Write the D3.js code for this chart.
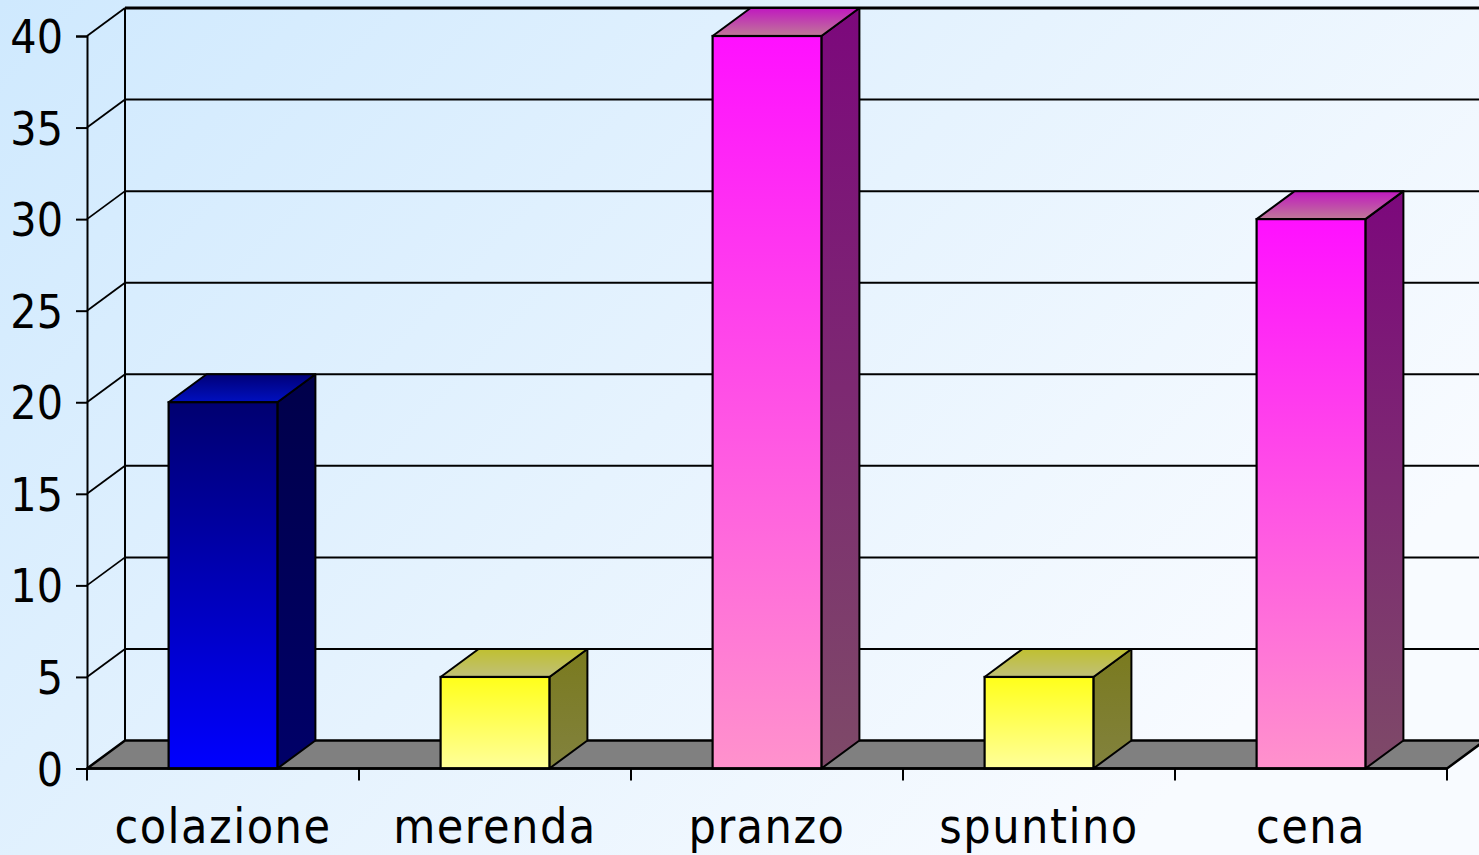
<!DOCTYPE html>
<html>
<head>
<meta charset="utf-8">
<script src="https://cdn.jsdelivr.net/npm/d3@7"></script>
<style>
  html, body { margin: 0; padding: 0; overflow: hidden; }
  svg { display: block; }
  text { font-family: 'DejaVu Sans Condensed', 'DejaVu Sans', sans-serif; font-stretch: condensed; fill: #000; }
</style>
</head>
<body>
<svg id="chart" width="1479" height="855"></svg>
<script>
// Meals and their counts
const categories = ["colazione", "merenda", "pranzo", "spuntino", "cena"];
const values = [20, 5, 40, 5, 30];
const yTicks = [0, 5, 10, 15, 20, 25, 30, 35, 40];

// colour scheme per bar: [front top, front bottom, side top, side bottom, top back, top front]
const palettes = {
  blue:    ["#000070", "#0000ff", "#00004a", "#000068", "#000078", "#0010c0"],
  yellow:  ["#ffff1a", "#ffff9a", "#7a7a1e", "#82823e", "#c0c030", "#c0c078"],
  magenta: ["#ff10ff", "#ff92cc", "#7c087c", "#7e4a68", "#c018c0", "#c07898"]
};
const barPalette = ["blue", "yellow", "magenta", "yellow", "magenta"];

const W = 1479, H = 855;
const svg = d3.select("#chart");
const defs = svg.append("defs");

// soft blue-to-white backdrop
const bg = defs.append("linearGradient").attr("id", "bg")
  .attr("x1", 0).attr("y1", 0).attr("x2", 1).attr("y2", 0.55);
bg.append("stop").attr("offset", "0%").attr("stop-color", "#cfe9fe");
bg.append("stop").attr("offset", "55%").attr("stop-color", "#e6f3fe");
bg.append("stop").attr("offset", "100%").attr("stop-color", "#f8fbff");
svg.append("rect").attr("width", W).attr("height", H).attr("fill", "url(#bg)");

// projection of the depth axis
const DX = 38, DY = -28;

const x = d3.scaleBand().domain(categories).range([87, 1447])
  .paddingInner(0.6).paddingOuter(0.3);
const xEdges = d3.scaleBand().domain(categories).range([87, 1447]).padding(0);
const y = d3.scaleLinear().domain([0, 40]).range([768.5, 36]);
const [x0, x1] = x.range();

// back wall grid lines
const g = svg.append("g");
g.selectAll("line.grid").data(yTicks.filter(d => d > 0)).join("line")
  .attr("x1", x0 + DX).attr("x2", W + 5)
  .attr("y1", d => y(d) + DY).attr("y2", d => y(d) + DY)
  .attr("stroke", "#000").attr("stroke-width", d => d === 40 ? 3 : 2);

// side wall diagonals
g.selectAll("line.diag").data(yTicks.filter(d => d > 0)).join("line")
  .attr("x1", x0).attr("y1", d => y(d))
  .attr("x2", x0 + DX).attr("y2", d => y(d) + DY)
  .attr("stroke", "#000").attr("stroke-width", 1.8);

// back wall left edge
g.append("line").attr("x1", x0 + DX).attr("x2", x0 + DX)
  .attr("y1", y(40) + DY).attr("y2", y(0) + DY)
  .attr("stroke", "#000").attr("stroke-width", 2);

// floor
g.append("path")
  .attr("d", d3.line()([[x0, y(0)], [x1, y(0)], [x1 + DX, y(0) + DY], [x0 + DX, y(0) + DY]]) + "Z")
  .attr("fill", "#808080").attr("stroke", "#000").attr("stroke-width", 2.5)
  .attr("stroke-linejoin", "round");

// gradients for bar faces
Object.entries(palettes).forEach(([k, c]) => {
  const f = defs.append("linearGradient").attr("id", "front-" + k)
    .attr("x1", 0).attr("y1", 0).attr("x2", 0).attr("y2", 1);
  f.append("stop").attr("offset", "0%").attr("stop-color", c[0]);
  f.append("stop").attr("offset", "100%").attr("stop-color", c[1]);
  const s = defs.append("linearGradient").attr("id", "side-" + k)
    .attr("x1", 0).attr("y1", 0).attr("x2", 0).attr("y2", 1);
  s.append("stop").attr("offset", "0%").attr("stop-color", c[2]);
  s.append("stop").attr("offset", "100%").attr("stop-color", c[3]);
  const t = defs.append("linearGradient").attr("id", "top-" + k)
    .attr("x1", 0).attr("y1", 0).attr("x2", 0).attr("y2", 1);
  t.append("stop").attr("offset", "0%").attr("stop-color", c[4]);
  t.append("stop").attr("offset", "100%").attr("stop-color", c[5]);
});

// 3D bars
const data = categories.map((c, i) => ({ c, v: values[i], p: barPalette[i] }));
const bars = svg.append("g").selectAll("g").data(data).join("g");
const line = d3.line();
bars.append("path") // side face
  .attr("d", d => {
    const r = x(d.c) + x.bandwidth(), t = y(d.v), b = y(0);
    return line([[r, t], [r + DX, t + DY], [r + DX, b + DY], [r, b]]) + "Z";
  })
  .attr("fill", d => `url(#side-${d.p})`).attr("stroke", "#000").attr("stroke-width", 2)
  .attr("stroke-linejoin", "round");
bars.append("path") // top face
  .attr("d", d => {
    const l = x(d.c), r = l + x.bandwidth(), t = y(d.v);
    return line([[l, t], [r, t], [r + DX, t + DY], [l + DX, t + DY]]) + "Z";
  })
  .attr("fill", d => `url(#top-${d.p})`).attr("stroke", "#000").attr("stroke-width", 2)
  .attr("stroke-linejoin", "round");
bars.append("rect") // front face
  .attr("x", d => x(d.c)).attr("y", d => y(d.v))
  .attr("width", x.bandwidth()).attr("height", d => y(0) - y(d.v))
  .attr("fill", d => `url(#front-${d.p})`).attr("stroke", "#000").attr("stroke-width", 2.2);

// front floor edge + category ticks
const xAxis = svg.append("g");
xAxis.append("line").attr("x1", x0).attr("x2", x1).attr("y1", y(0)).attr("y2", y(0))
  .attr("stroke", "#000").attr("stroke-width", 2.5);
const edges = categories.map(c => xEdges(c)).concat([x1]);
xAxis.selectAll("line.tick").data(edges).join("line")
  .attr("x1", d => d).attr("x2", d => d)
  .attr("y1", y(0)).attr("y2", y(0) + 12)
  .attr("stroke", "#000").attr("stroke-width", 2);
xAxis.selectAll("text").data(categories).join("text")
  .attr("x", d => x(d) + x.bandwidth() / 2).attr("y", 843)
  .attr("text-anchor", "middle").attr("font-size", 48)
  .attr("letter-spacing", "1.5px")
  .text(d => d);

// value axis
const yAxis = svg.append("g").attr("transform", `translate(${x0},0)`)
  .call(d3.axisLeft(y).tickValues(yTicks).tickSize(11).tickPadding(13).tickFormat(d3.format("d")));
yAxis.select(".domain").attr("stroke", "#000").attr("stroke-width", 2);
yAxis.selectAll(".tick line").attr("stroke", "#000").attr("stroke-width", 2);
yAxis.selectAll(".tick text").attr("font-size", 46).attr("font-family", null)
  .attr("dy", "0.36em").attr("fill", "#000");
</script>
</body>
</html>
